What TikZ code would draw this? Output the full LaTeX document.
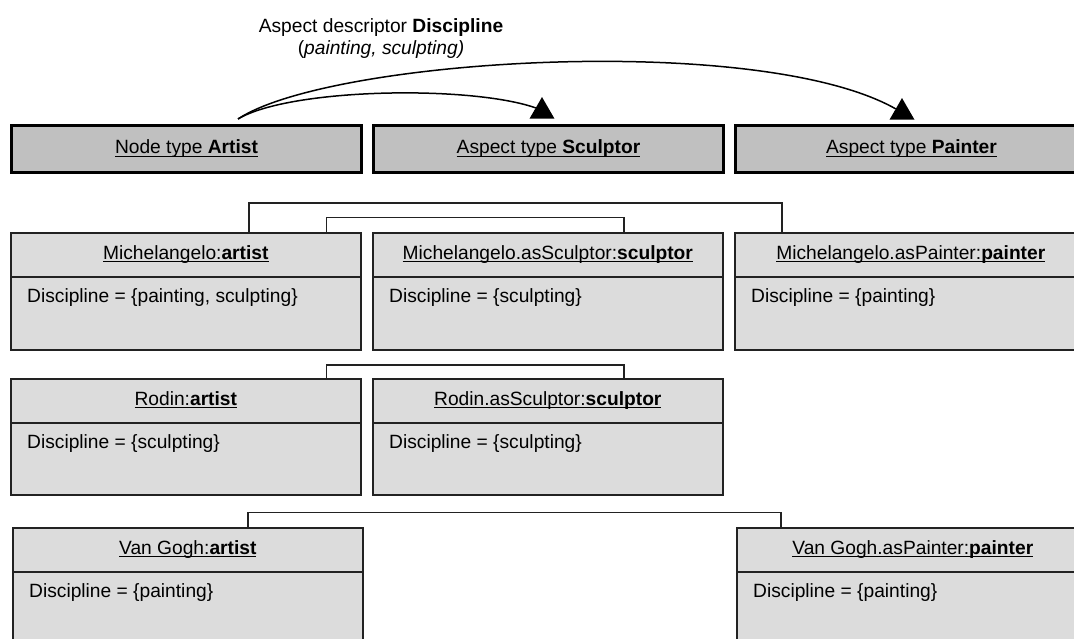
\documentclass[tikz,border=0pt]{standalone}
\usepackage{fontspec}
\setmainfont{Liberation Sans}
\usetikzlibrary{shapes.geometric}
\definecolor{typefill}{HTML}{C0C0C0}
\definecolor{instfill}{HTML}{DCDCDC}
\definecolor{edgegray}{HTML}{222222}
% underline with a fixed rule thickness
\newcommand\uln[1]{\setbox0\hbox{#1}\rlap{\rule[-3.2pt]{\wd0}{1.5pt}}\box0}
% instance box: name, x, y, width, height, header text, attribute text
\newcommand\instbox[7]{%
  \node[inst, minimum width=#4pt, minimum height=#5pt] (#1) at (#2,#3) {};
  \draw[boxline] ([yshift=-45pt]#1.north west) -- ([yshift=-45pt]#1.north east);
  \node[hdr] (#1-h) at ([yshift=-27pt]#1.north) {#6};
  \node[attr] (#1-a) at ([xshift=17pt,yshift=-70pt]#1.north west) {#7};
}
\begin{document}
\begin{tikzpicture}[x=1pt, y=-1pt,
  font=\fontsize{19.2}{22}\selectfont,
  typebox/.style={draw=black, line width=3pt, fill=typefill, minimum height=47pt,
    inner sep=0pt, anchor=north west},
  inst/.style={draw=edgegray, line width=1.6pt, fill=instfill, inner sep=0pt, anchor=north west},
  boxline/.style={draw=edgegray, line width=1.6pt},
  hdr/.style={inner sep=0pt, anchor=base},
  attr/.style={inner sep=0pt, anchor=base west},
  conn/.style={draw=edgegray, line width=1.5pt},
  rel/.style={draw=black, line width=1.5pt},
  tri/.style={regular polygon, regular polygon sides=3, fill=black, inner sep=0pt,
    outer sep=0pt, minimum size=28.9pt}]
\useasboundingbox (0,0) rectangle (1074,639);
\clip (0,0) rectangle (1074,639);

% type level
\node[typebox, minimum width=350pt] (tA) at (10,124) {\uln{Node type \textbf{Artist}}};
\node[typebox, minimum width=350pt] (tS) at (372,124) {\uln{Aspect type \textbf{Sculptor}}};
\node[typebox, minimum width=352pt] (tP) at (734,124) {\uln{Aspect type \textbf{Painter}}};

% aspect descriptor
\node[align=center, inner sep=0pt] (lbl) at (381,39)
  {Aspect descriptor \textbf{Discipline}\\(\textit{painting, sculpting)}};
\coordinate (src) at (238,119);
\node[tri] (aS) at (542,111.5) {};
\node[tri] (aP) at (902,112.5) {};
\draw[rel] (src) .. controls (290,88) and (470,85) .. (aS.side 1);
\draw[rel] (src) .. controls (330,58) and (760,32) .. (aP.side 1);

% instance level
\instbox{ma}{10}{232}{350}{117}{\uln{Michelangelo:\textbf{artist}}}{Discipline = \{painting, sculpting\}}
\instbox{ms}{372}{232}{350}{117}{\uln{Michelangelo.asSculptor:\textbf{sculptor}}}{Discipline = \{sculpting\}}
\instbox{mp}{734}{232}{352}{117}{\uln{Michelangelo.asPainter:\textbf{painter}}}{Discipline = \{painting\}}

\instbox{ra}{10}{378}{350}{116}{\uln{Rodin:\textbf{artist}}}{Discipline = \{sculpting\}}
\instbox{rs}{372}{378}{350}{116}{\uln{Rodin.asSculptor:\textbf{sculptor}}}{Discipline = \{sculpting\}}

\instbox{va}{12}{527}{350}{130}{\uln{Van Gogh:\textbf{artist}}}{Discipline = \{painting\}}
\instbox{vp}{736}{527}{352}{130}{\uln{Van Gogh.asPainter:\textbf{painter}}}{Discipline = \{painting\}}

% aspect links between instances
\draw[conn] ([xshift=239pt]ma.north west) -- ++(0,-29) -| ([xshift=48pt]mp.north west);
\draw[conn] ([xshift=316.5pt]ma.north west) -- ++(0,-14.5) -| ([xshift=252pt]ms.north west);
\draw[conn] ([xshift=316.5pt]ra.north west) -- ++(0,-13) -| ([xshift=252pt]rs.north west);
\draw[conn] ([xshift=236pt]va.north west) -- ++(0,-14.5) -| ([xshift=45pt]vp.north west);
\end{tikzpicture}
\end{document}
